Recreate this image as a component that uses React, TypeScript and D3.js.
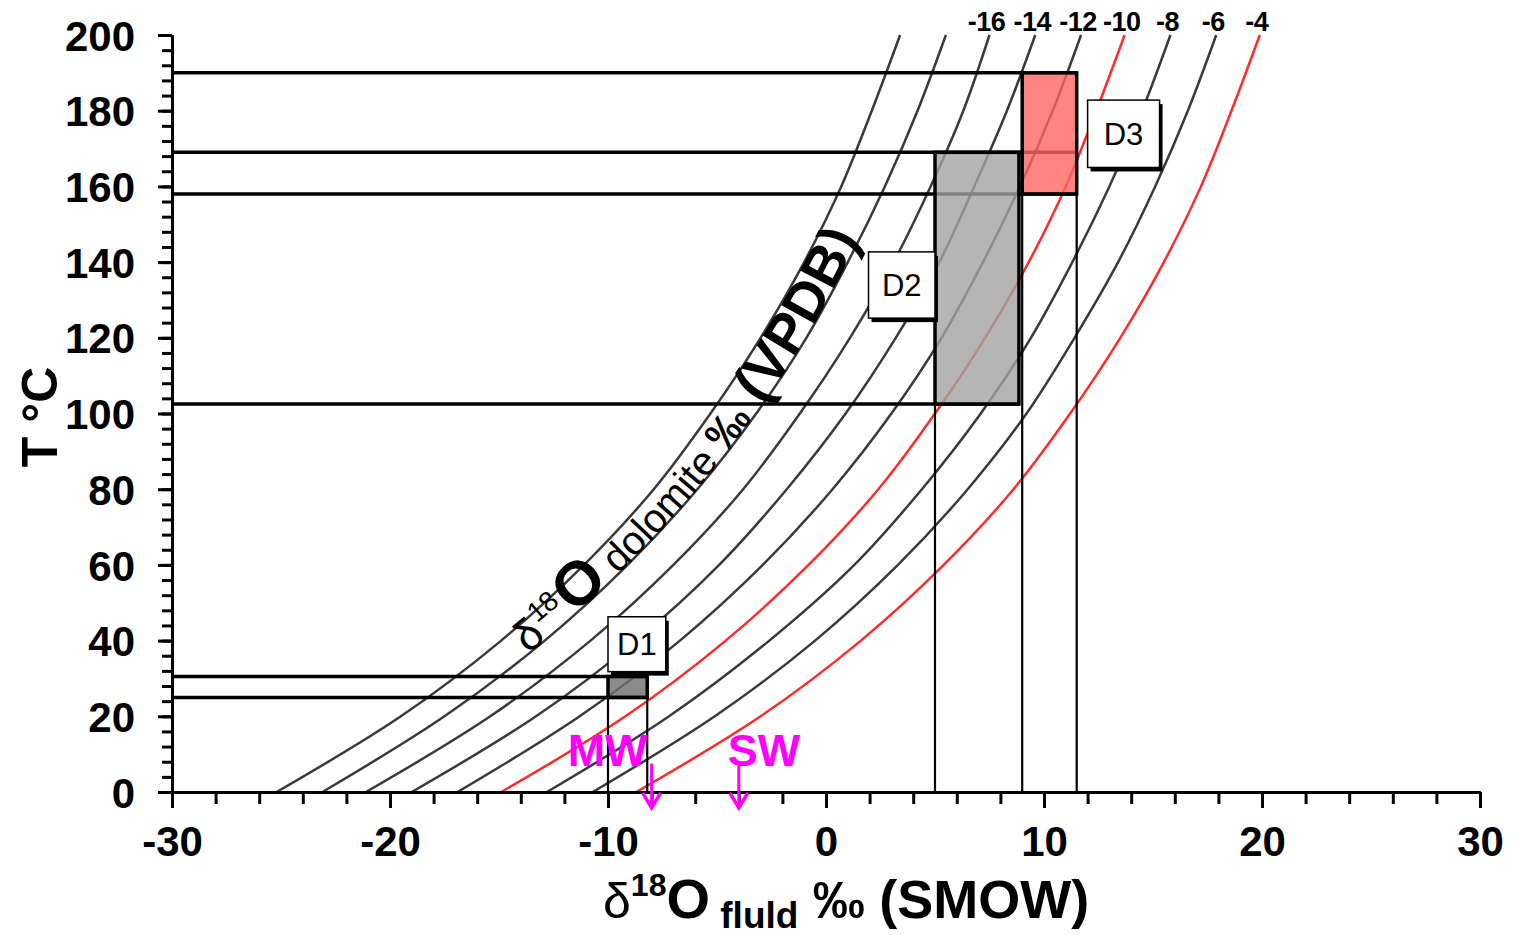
import { useEffect, useRef } from "react";
import * as d3 from "d3";

// Temperatures (°C) at which the isopleths were read
const temps = [0, 20, 40, 60, 80, 100, 120, 140, 160, 180, 200];

// δ18O fluid (‰ SMOW) along each dolomite isopleth, left to right
const iso1 = [-25.2, -19.5, -14.9, -11.1, -7.9, -5.3, -3.0, -1.0, 0.7, 2.1, 3.4];
const iso2 = [-23.1, -17.5, -12.9, -9.1, -5.9, -3.2, -0.9, 1.0, 2.7, 4.2, 5.5];
const iso3 = [-21.1, -15.4, -10.8, -7.0, -3.8, -1.2, 1.1, 3.1, 4.8, 6.3, 7.5];
const iso4 = [-19.0, -13.3, -8.7, -4.9, -1.8, 0.9, 3.2, 5.2, 6.8, 8.3, 9.6];
const iso5 = [-16.9, -11.3, -6.7, -2.9, 0.3, 3.0, 5.3, 7.2, 8.9, 10.4, 11.7];
const iso6 = [-14.9, -9.2, -4.6, -0.8, 2.4, 5.0, 7.3, 9.3, 11.0, 12.4, 13.7];
const iso7 = [-12.8, -7.2, -2.6, 1.3, 4.4, 7.1, 9.4, 11.3, 13.0, 14.5, 15.8];
const iso8 = [-10.7, -5.1, -0.5, 3.3, 6.5, 9.2, 11.4, 13.4, 15.1, 16.6, 17.9];
const iso9 = [-8.7, -3.0, 1.6, 5.4, 8.6, 11.2, 13.5, 15.5, 17.2, 18.6, 19.9];
const isopleths = [iso1, iso2, iso3, iso4, iso5, iso6, iso7, iso8, iso9];
const redIsopleths = [5, 8];

// labels printed above the isopleths (from the 3rd one onwards)
const dolomiteLabels = ["-16", "-14", "-12", "-10", "-8", "-6", "-4"];

// dolomite generations: fluid range and temperature range
const boxNames = ["D1", "D2", "D3"];
const boxXMin = [-10, 5, 9];
const boxXMax = [-8.2, 8.85, 11.5];
const boxTMin = [25, 102.5, 158];
const boxTMax = [30.5, 169, 190];

// guide lines to the axes
const hLineT = [30.5, 25, 190, 169, 158, 102.5];
const hLineEnd = [-8.2, -8.2, 11.5, 11.5, 11.5, 8.85];
const vLineX = [-10, -8.2, 5, 9, 11.5];
const vLineTop = [25, 25, 102.5, 158, 158];

// name tags of the boxes (data coords)
const tagX0 = [-10, 1.95, 12.0];
const tagX1 = [-7.35, 5.0, 15.3];
const tagT0 = [31.8, 125.2, 165];
const tagT1 = [46.3, 142.7, 182.8];

// reference waters
const waterNames = ["MW", "SW"];
const waterValues = [-8, -4];

const xTicks = [-30, -20, -10, 0, 10, 20, 30];
const yTicks = [0, 20, 40, 60, 80, 100, 120, 140, 160, 180, 200];

const FONT = "'Liberation Sans', Arial, sans-serif";

export default function App() {
  const svgRef = useRef<SVGSVGElement>(null);

  useEffect(() => {
    if (!svgRef.current) return;
    const svg = d3.select(svgRef.current);
    svg.selectAll("*").remove();

    const x = d3.scaleLinear().domain([-30, 30]).range([172, 1480]);
    const y = d3.scaleLinear().domain([0, 200]).range([792, 35]);

    const line = d3
      .line<[number, number]>()
      .x((d) => x(d[0]))
      .y((d) => y(d[1]))
      .curve(d3.curveCatmullRom);

    // Isopleths
    isopleths.forEach((vals, i) => {
      const pts = vals.map((v, j) => [v, temps[j]] as [number, number]);
      const red = redIsopleths.includes(i);
      svg
        .append("path")
        .attr("id", `iso${i}`)
        .attr("d", line(pts))
        .attr("fill", "none")
        .attr("stroke", red ? "#ff2b2b" : "#3a3a3a")
        .attr("stroke-width", 2.5);
    });

    // Labels above isopleths
    dolomiteLabels.forEach((lab, k) => {
      const vals = isopleths[k + 2];
      svg
        .append("text")
        .attr("x", x(vals[vals.length - 1]) - 3)
        .attr("y", 31)
        .attr("text-anchor", "middle")
        .style("font-family", FONT)
        .style("font-weight", "bold")
        .style("font-size", "27px")
        .style("letter-spacing", "-0.5px")
        .text(lab);
    });

    // Guide lines
    hLineT.forEach((t, i) => {
      svg
        .append("line")
        .attr("x1", x(-30))
        .attr("x2", x(hLineEnd[i]))
        .attr("y1", y(t))
        .attr("y2", y(t))
        .attr("stroke", "#000")
        .attr("stroke-width", 3.5);
    });
    vLineX.forEach((v, i) => {
      svg
        .append("line")
        .attr("x1", x(v))
        .attr("x2", x(v))
        .attr("y1", y(0))
        .attr("y2", y(vLineTop[i]))
        .attr("stroke", "#000")
        .attr("stroke-width", 2.2);
    });

    // Boxes
    const boxFill = ["#6e6e6e", "#a3a3a3", "#ff6666"];
    boxNames.forEach((_, i) => {
      svg
        .append("rect")
        .attr("x", x(boxXMin[i]))
        .attr("y", y(boxTMax[i]))
        .attr("width", x(boxXMax[i]) - x(boxXMin[i]))
        .attr("height", y(boxTMin[i]) - y(boxTMax[i]))
        .attr("fill", boxFill[i])
        .attr("fill-opacity", 0.8)
        .attr("stroke", "#000")
        .attr("stroke-width", 3.5);
    });

    // Axes
    const xAxisMinor = svg
      .append("g")
      .attr("transform", `translate(0,${y(0)})`)
      .call(
        d3
          .axisBottom(x)
          .tickValues(d3.range(-30, 31, 2))
          .tickSize(12)
          .tickSizeOuter(0)
          .tickFormat(() => "")
      );
    const xAxis = svg
      .append("g")
      .attr("transform", `translate(0,${y(0)})`)
      .call(
        d3
          .axisBottom(x)
          .tickValues(xTicks)
          .tickSize(16)
          .tickSizeOuter(0)
          .tickPadding(18)
          .tickFormat((d) => String(d))
      );
    const yAxisMinor = svg
      .append("g")
      .attr("transform", `translate(${x(-30)},0)`)
      .call(
        d3
          .axisLeft(y)
          .tickValues(d3.range(0, 201, 4))
          .tickSize(10)
          .tickSizeOuter(0)
          .tickFormat(() => "")
      );
    const yAxis = svg
      .append("g")
      .attr("transform", `translate(${x(-30)},0)`)
      .call(
        d3
          .axisLeft(y)
          .tickValues(yTicks)
          .tickSize(14)
          .tickSizeOuter(0)
          .tickPadding(23)
          .tickFormat((d) => String(d))
      );
    [xAxisMinor, xAxis, yAxisMinor, yAxis].forEach((g) => {
      g.selectAll(".domain").attr("stroke", "#000").attr("stroke-width", 3);
      g.selectAll(".tick line").attr("stroke", "#000").attr("stroke-width", 3);
      g.selectAll("text")
        .style("font-family", FONT)
        .style("font-weight", "bold")
        .style("font-size", "42px")
        .attr("fill", "#000");
    });
    yAxis.selectAll("text").attr("dy", "0.36em");

    // Name tags
    boxNames.forEach((name, i) => {
      const bx = x(tagX0[i]);
      const by = y(tagT1[i]);
      const bw = x(tagX1[i]) - x(tagX0[i]);
      const bh = y(tagT0[i]) - y(tagT1[i]);
      svg
        .append("rect")
        .attr("x", bx + 3)
        .attr("y", by + 4)
        .attr("width", bw)
        .attr("height", bh)
        .attr("fill", "#000");
      svg
        .append("rect")
        .attr("x", bx)
        .attr("y", by)
        .attr("width", bw)
        .attr("height", bh)
        .attr("fill", "#fff")
        .attr("stroke", "#000")
        .attr("stroke-width", 1.5);
      svg
        .append("text")
        .attr("x", bx + bw / 2)
        .attr("y", by + bh / 2)
        .attr("dy", "0.36em")
        .attr("text-anchor", "middle")
        .style("font-family", FONT)
        .style("font-size", "31px")
        .text(name);
    });

    // Curved label along the second isopleth
    const curvedLabel = svg
      .append("text")
      .style("font-family", FONT)
      .append("textPath")
      .attr("href", "#iso1")
      .attr("startOffset", 248);
    curvedLabel.append("tspan").style("font-size", "44px").text("δ");
    curvedLabel
      .append("tspan")
      .style("font-size", "28px")
      .attr("dx", 2)
      .attr("dy", -18)
      .text("18");
    curvedLabel
      .append("tspan")
      .style("font-size", "62px")
      .style("font-weight", "bold")
      .attr("dx", 3)
      .attr("dy", 18)
      .text("O");
    curvedLabel.append("tspan").style("font-size", "40px").text(" dolomite  ");
    curvedLabel
      .append("tspan")
      .style("font-size", "44px")
      .style("font-weight", "bold")
      .text("‰ ");
    curvedLabel
      .append("tspan")
      .style("font-size", "56px")
      .style("font-weight", "bold")
      .attr("dx", 4)
      .text("(VPDB)");

    // Reference waters (arrows)
    waterNames.forEach((name, i) => {
      const wx = x(waterValues[i]);
      const top = y(7.5);
      const tip = y(-4.2);
      svg
        .append("line")
        .attr("x1", wx)
        .attr("x2", wx)
        .attr("y1", top)
        .attr("y2", tip - 1)
        .attr("stroke", "#ff00ff")
        .attr("stroke-width", 3);
      svg
        .append("path")
        .attr("d", `M${wx - 9},${tip - 15}L${wx},${tip}L${wx + 9},${tip - 15}`)
        .attr("fill", "none")
        .attr("stroke", "#ff00ff")
        .attr("stroke-width", 3.5);
      svg
        .append("text")
        .attr("x", i === 0 ? wx - 4 : wx - 11)
        .attr("y", y(7))
        .attr("text-anchor", i === 0 ? "end" : "start")
        .style("font-family", FONT)
        .style("font-weight", "bold")
        .style("font-size", "45px")
        .attr("fill", "#ff00ff")
        .text(name);
    });

    // Axis titles
    const xt = svg
      .append("text")
      .attr("x", 603)
      .attr("y", 918)
      .style("font-family", FONT)
      .style("font-weight", "bold");
    xt.append("tspan").style("font-size", "50px").style("font-weight", "normal").text("δ");
    xt.append("tspan").style("font-size", "32px").attr("dy", -22).text("18");
    xt.append("tspan").style("font-size", "56px").attr("dy", 22).text("O");
    xt.append("tspan").style("font-size", "37px").attr("dy", 10).text(" fluld");
    xt.append("tspan").style("font-size", "52px").attr("dy", -10).text(" ‰ ");
    xt.append("tspan").style("font-size", "54px").text("(SMOW)");

    svg
      .append("text")
      .attr("transform", "translate(57,417) rotate(-90)")
      .attr("text-anchor", "middle")
      .style("font-family", FONT)
      .style("font-weight", "bold")
      .style("font-size", "50px")
      .text("T °C");
  }, []);

  return (
    <svg
      ref={svgRef}
      width={1513}
      height={935}
      style={{ position: "absolute", left: 0, top: 0, background: "#fff" }}
    />
  );
}
